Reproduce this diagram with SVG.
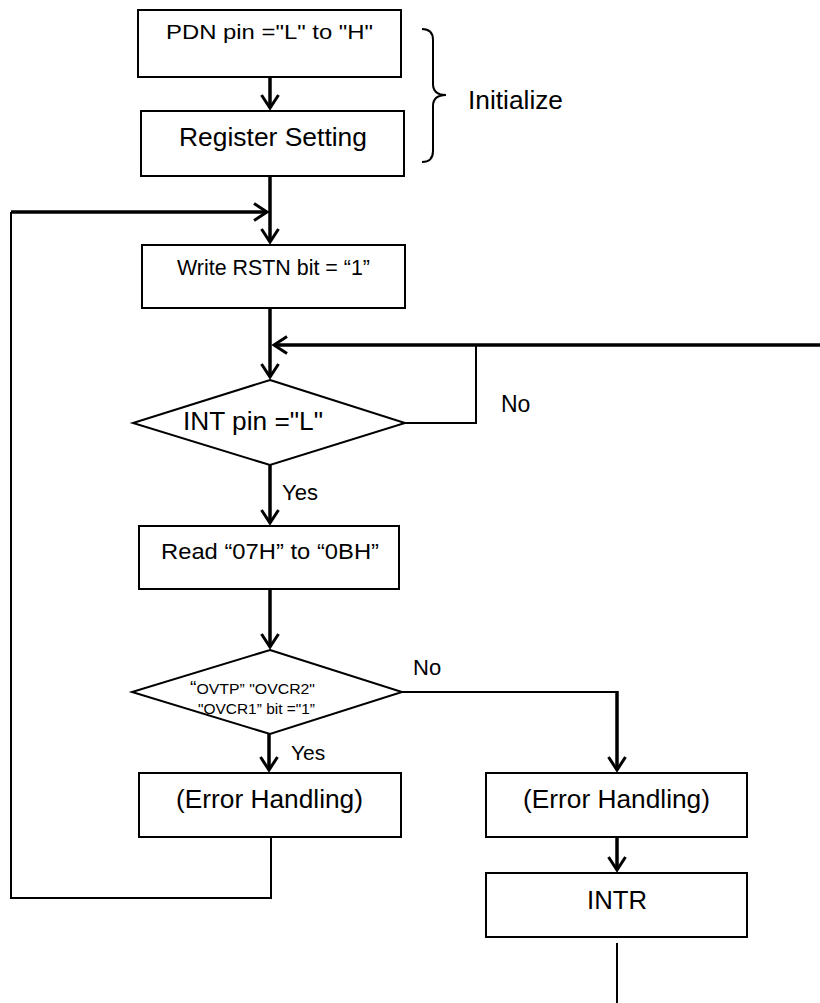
<svg xmlns="http://www.w3.org/2000/svg" width="820" height="1003" viewBox="0 0 820 1003">
<style>
.box{fill:#fff;stroke:#000;stroke-width:2}
.t{font-family:"Liberation Sans",Arial,sans-serif;fill:#000}
.c{text-anchor:middle}
.thick{fill:none;stroke:#000;stroke-width:3.5}
.thin{fill:none;stroke:#000;stroke-width:2}
</style>
<defs>
<marker id="arr" markerUnits="userSpaceOnUse" viewBox="-16 -11 20 22" refX="0" refY="0" markerWidth="20" markerHeight="22" orient="auto" overflow="visible">
<path d="M-13,-8.5 L0,0 L-13,8.5" fill="none" stroke="#000" stroke-width="3"/>
</marker>
</defs>
<rect width="820" height="1003" fill="#fff"/>

<g id="connectors">
<path class="thick" d="M270,77 V108" marker-end="url(#arr)"/>
<path class="thick" d="M270,176 V242" marker-end="url(#arr)"/>
<path class="thin" d="M271,837 V898 H11 V212"/>
<path class="thick" d="M11,212 H267" marker-end="url(#arr)"/>
<path class="thick" d="M270,308 V377" marker-end="url(#arr)"/>
<path class="thin" d="M405,423 H476 V345"/>
<path class="thick" d="M820,345 H274" marker-end="url(#arr)"/>
<path class="thick" d="M270,465 V523" marker-end="url(#arr)"/>
<path class="thick" d="M270,589 V647" marker-end="url(#arr)"/>
<path class="thick" d="M269,734 V770" marker-end="url(#arr)"/>
<path class="thin" d="M402,692 H617"/>
<path class="thick" d="M617,691 V770" marker-end="url(#arr)"/>
<path class="thick" d="M617,837 V870" marker-end="url(#arr)"/>
<path class="thin" d="M617,943 V1003"/>
</g>

<g id="pdn">
<rect class="box" x="138" y="10" width="263" height="67"/>
<text class="t c" x="269.5" y="39" font-size="21" textLength="207" lengthAdjust="spacingAndGlyphs">PDN pin ="L" to "H"</text>
</g>
<g id="register">
<rect class="box" x="141" y="111" width="263" height="65"/>
<text class="t c" x="273" y="146" font-size="25" textLength="188" lengthAdjust="spacingAndGlyphs">Register Setting</text>
</g>
<g id="initialize">
<path class="thin" d="M422,29 Q433,29 433,40 V84 Q433,95 446,95 Q433,95 433,106 V151 Q433,162 422,162"/>
<text class="t" x="468" y="109" font-size="26.5" textLength="95" lengthAdjust="spacingAndGlyphs">Initialize</text>
</g>
<g id="write">
<rect class="box" x="142" y="245" width="263" height="63"/>
<text class="t c" x="273.5" y="275" font-size="21.5" textLength="193" lengthAdjust="spacingAndGlyphs">Write RSTN bit = “1”</text>
</g>
<g id="int">
<polygon class="box" points="270,380 405,423 270,465 133,423"/>
<text class="t c" x="253" y="430" font-size="26" textLength="140" lengthAdjust="spacingAndGlyphs">INT pin ="L"</text>
<text class="t" x="501" y="412" font-size="23">No</text>
<text class="t" x="282" y="500" font-size="22">Yes</text>
</g>
<g id="read">
<rect class="box" x="139" y="526" width="260" height="63"/>
<text class="t c" x="270" y="559" font-size="22" textLength="218" lengthAdjust="spacingAndGlyphs">Read “07H” to “0BH”</text>
</g>
<g id="ovtp">
<polygon class="box" points="270,650 402,692 270,734 132,692"/>
<text class="t c" x="252.5" y="694" font-size="15.5" textLength="125" lengthAdjust="spacingAndGlyphs"><tspan font-size="19">“</tspan>OVTP” "OVCR2"</text>
<text class="t c" x="256.5" y="714" font-size="15.5" textLength="117" lengthAdjust="spacingAndGlyphs">"OVCR1” bit ="1”</text>
<text class="t" x="413" y="675" font-size="22">No</text>
<text class="t" x="291" y="760" font-size="21">Yes</text>
</g>
<g id="error1">
<rect class="box" x="139" y="773" width="262" height="64"/>
<text class="t c" x="269.5" y="808" font-size="25" textLength="187" lengthAdjust="spacingAndGlyphs">(Error Handling)</text>
</g>
<g id="error2">
<rect class="box" x="486" y="773" width="261" height="64"/>
<text class="t c" x="616.5" y="808" font-size="25" textLength="187" lengthAdjust="spacingAndGlyphs">(Error Handling)</text>
</g>
<g id="intr">
<rect class="box" x="486" y="873" width="261" height="64"/>
<text class="t c" x="617" y="909" font-size="26" textLength="60" lengthAdjust="spacingAndGlyphs">INTR</text>
</g>
</svg>
